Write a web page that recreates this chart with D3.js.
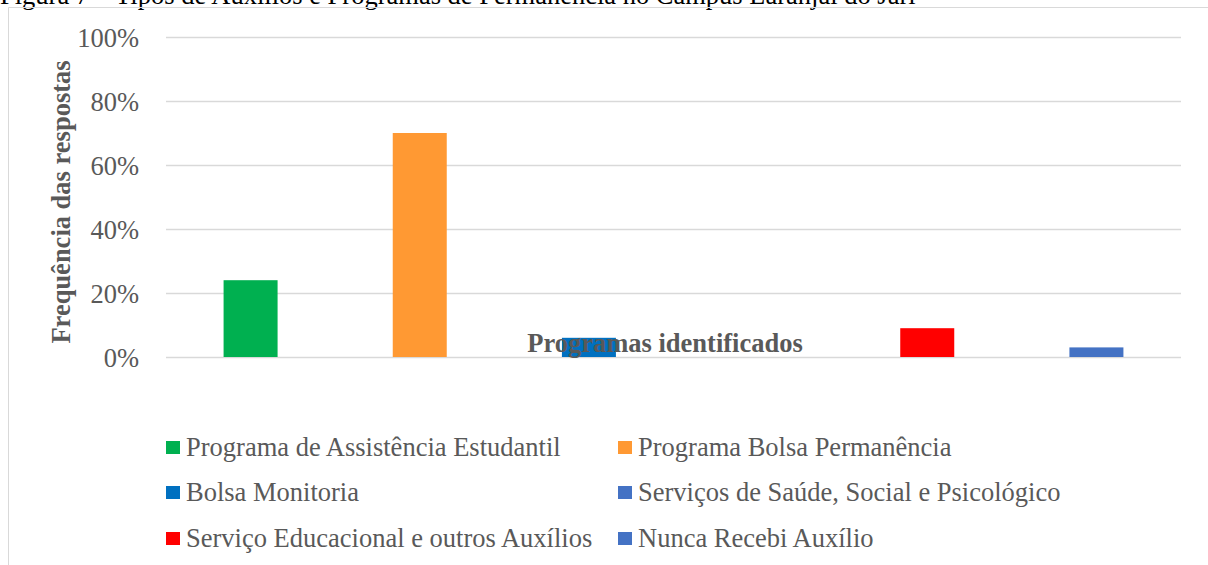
<!DOCTYPE html>
<html>
<head>
<meta charset="utf-8">
<script src="https://cdn.jsdelivr.net/npm/d3@7"></script>
<style>
  body { margin: 0; background: #fff; }
  svg { display: block; font-family: "Liberation Serif", "Times New Roman", serif; }
</style>
</head>
<body>
<script>
const largura = 1208
const altura = 565
const plot = {esq: 166, dir: 1181, topo: 37, base: 357}

const categorias = ['Programa de Assistência Estudantil', 'Programa Bolsa Permanência', 'Bolsa Monitoria',
  'Serviços de Saúde, Social e Psicológico', 'Serviço Educacional e outros Auxílios', 'Nunca Recebi Auxílio']
const valores = [0.24, 0.70, 0.06, 0, 0.09, 0.03]
const cores = ['#00b050', '#ff9933', '#0070c0', '#4472c4', '#ff0000', '#4472c4']
const ticks = [0, 0.2, 0.4, 0.6, 0.8, 1]

const titulo = 'Figura 7 – Tipos de Auxílios e Programas de Permanência no Campus Laranjal do Jari'

var svg = d3.select('body').append('svg').attr('width', largura).attr('height', altura)

// legenda da figura, cortada no topo
svg.append('text')
   .attr('x', 0).attr('y', 4)
   .style('font-size', '26.5px')
   .attr('fill', '#000')
   .text(titulo)

// moldura do gráfico
svg.append('path')
   .attr('d', 'M8.5,' + altura + 'V7.5H' + largura)
   .attr('fill', 'none')
   .attr('stroke', '#d9d9d9')

var x = d3.scaleBand().domain(categorias).range([plot.esq, plot.dir]).paddingInner(0).paddingOuter(0)
var y = d3.scaleLinear().domain([0, 1]).range([plot.base, plot.topo])
var larguraBarra = 54

var eixoY = d3.axisLeft(y).tickValues(ticks).tickFormat(d3.format('.0%')).tickSize(-(plot.dir - plot.esq)).tickPadding(27)

var grupoEixoY = svg.append('g').attr('transform', 'translate(' + plot.esq + ',0)').call(eixoY)
grupoEixoY.select('.domain').remove()
grupoEixoY.selectAll('line').attr('stroke', '#d9d9d9').attr('stroke-width', 1.5)
grupoEixoY.selectAll('text')
   .attr('fill', '#595959')
   .style('font-size', '26.5px')
   .style('font-family', '"Liberation Serif", serif')
   .attr('dy', '0.34em')

svg.append('g').selectAll('rect')
   .data(valores)
   .join('rect')
   .attr('x', (d, i) => x(categorias[i]) + x.bandwidth() / 2 - larguraBarra / 2)
   .attr('width', larguraBarra)
   .attr('y', d => y(d))
   .attr('height', d => y(0) - y(d))
   .attr('fill', (d, i) => cores[i])

// títulos dos eixos
svg.append('text')
   .attr('x', 665).attr('y', 352)
   .attr('text-anchor', 'middle')
   .style('font-size', '26.5px')
   .style('font-weight', 'bold')
   .attr('fill', '#595959')
   .text('Programas identificados')

svg.append('text')
   .attr('transform', 'translate(70,' + 202 + ') rotate(-90)')
   .attr('text-anchor', 'middle')
   .style('font-size', '26.5px')
   .style('font-weight', 'bold')
   .attr('fill', '#595959')
   .text('Frequência das respostas')

// legenda
var colunas = [166, 618]
var linhas = [447, 492, 538]
var legenda = svg.append('g').selectAll('g')
   .data(categorias)
   .join('g')
   .attr('transform', (d, i) => 'translate(' + colunas[i % 2] + ',' + linhas[Math.floor(i / 2)] + ')')

legenda.append('rect')
   .attr('x', 0).attr('y', -6)
   .attr('width', 14).attr('height', 13)
   .attr('fill', (d, i) => cores[i])

legenda.append('text')
   .attr('x', 20).attr('y', 0)
   .attr('dy', '0.34em')
   .style('font-size', '26.5px')
   .attr('fill', '#595959')
   .text(d => d)
</script>
</body>
</html>
